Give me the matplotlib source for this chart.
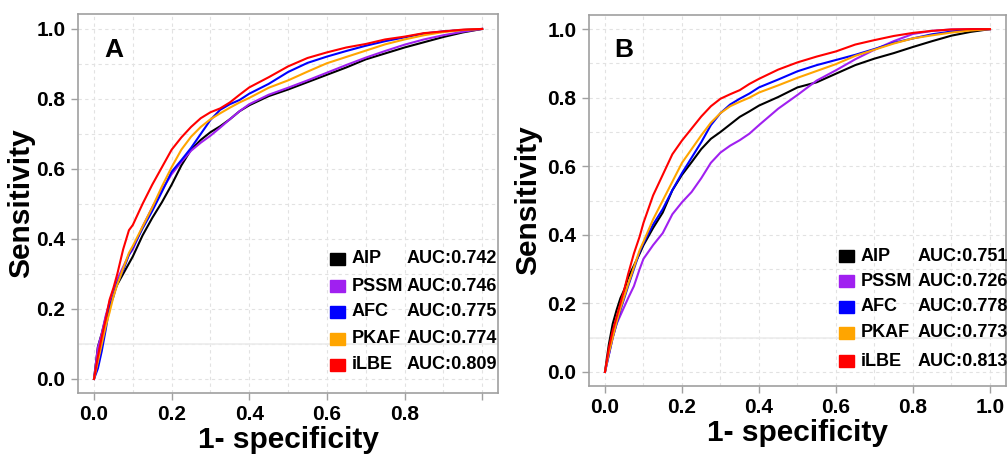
import matplotlib
matplotlib.use("Agg")
import matplotlib.pyplot as plt
from matplotlib.patches import Rectangle
import numpy as np

plt.rcParams['font.family'] = ['Liberation Sans', 'DejaVu Sans']
plt.rcParams['font.weight'] = 'bold'

# ---------------- data ----------------
fpr = [0.0, 0.01, 0.02, 0.03, 0.04, 0.05, 0.06, 0.075, 0.09, 0.1, 0.125,
       0.15, 0.175, 0.2, 0.225, 0.25, 0.275, 0.3, 0.325, 0.35, 0.375, 0.4,
       0.45, 0.5, 0.55, 0.6, 0.65, 0.7, 0.75, 0.8, 0.85, 0.9, 0.95, 1.0]

methods = ["AIP", "PSSM", "AFC", "PKAF", "iLBE"]
colors = ["#000000", "#A020F0", "#0000FF", "#FFA500", "#FF0000"]

# Panel A
a_aip  = [0, .092, .13, .175, .215, .245, .27, .30, .33, .35, .41, .46, .505,
          .555, .61, .655, .683, .705, .722, .742, .765, .782, .808, .827,
          .848, .869, .89, .913, .93, .947, .962, .977, .99, 1.0]
a_pssm = [0, .09, .13, .18, .22, .255, .285, .32, .355, .37, .435, .49, .54,
          .585, .62, .652, .675, .695, .718, .742, .765, .785, .812, .832,
          .853, .875, .897, .918, .937, .955, .97, .982, .992, 1.0]
a_afc  = [0, .03, .08, .14, .206, .235, .275, .31, .355, .375, .43, .48, .535,
          .592, .625, .66, .70, .74, .769, .785, .797, .815, .843, .877,
          .903, .921, .937, .952, .965, .976, .987, .993, .997, 1.0]
a_pkaf = [0, .05, .10, .15, .19, .235, .27, .315, .36, .38, .435, .49, .55,
          .605, .655, .692, .72, .742, .759, .775, .79, .803, .832, .853,
          .878, .902, .92, .938, .956, .97, .982, .991, .997, 1.0]
a_ilbe = [0, .064, .12, .17, .226, .26, .30, .37, .425, .44, .50, .555, .605,
          .655, .69, .72, .745, .762, .773, .79, .812, .833, .862, .893,
          .917, .933, .947, .957, .97, .978, .988, .993, .998, 1.0]
a_auc = ["0.742", "0.746", "0.775", "0.774", "0.809"]

# Panel B
b_aip  = [0, .08, .14, .18, .215, .24, .275, .31, .345, .37, .42, .465, .53,
          .575, .612, .65, .68, .70, .722, .744, .76, .777, .802, .83,
          .845, .87, .895, .914, .93, .948, .965, .981, .992, 1.0]
b_pssm = [0, .05, .10, .14, .165, .19, .215, .25, .30, .33, .37, .405, .46,
          .495, .525, .565, .61, .64, .66, .676, .695, .72, .768, .808,
          .85, .88, .912, .94, .965, .986, .995, .999, 1.0, 1.0]
b_afc  = [0, .05, .10, .14, .18, .215, .25, .30, .35, .375, .43, .475, .53,
          .58, .625, .67, .72, .755, .78, .797, .812, .83, .853, .877,
          .895, .91, .925, .942, .96, .973, .985, .993, .998, 1.0]
b_pkaf = [0, .055, .10, .145, .185, .22, .255, .305, .355, .38, .445, .50,
          .555, .61, .65, .69, .727, .755, .775, .788, .80, .815, .836,
          .858, .878, .898, .922, .94, .958, .973, .982, .99, .996, 1.0]
b_ilbe = [0, .07, .12, .16, .20, .24, .285, .345, .395, .435, .515, .575,
          .635, .675, .71, .745, .775, .797, .81, .822, .84, .855, .882,
          .903, .92, .935, .955, .968, .98, .989, .995, .999, 1.0, 1.0]
b_auc = ["0.751", "0.726", "0.778", "0.773", "0.813"]

xticks_a = [0.0, 0.2, 0.4, 0.6, 0.8, 1.0]
xlabels_a = ["0.0", "0.2", "0.4", "0.6", "0.8", ""]
xticks_b = [0.0, 0.2, 0.4, 0.6, 0.8, 1.0]
xlabels_b = ["0.0", "0.2", "0.4", "0.6", "0.8", "1.0"]
yticks = [0.0, 0.2, 0.4, 0.6, 0.8, 1.0]
ylabels = ["0.0", "0.2", "0.4", "0.6", "0.8", "1.0"]

# ---------------- figure ----------------
fig = plt.figure(figsize=(10.08, 4.54), dpi=100)
axA = fig.add_axes([0.0774, 0.1344, 0.4167, 0.835])
axB = fig.add_axes([0.5843, 0.1498, 0.4137, 0.817])

spine_col = "#a0a0a0"


def style(ax, xt, xl, panel, xlim, ylim, ylpad):
    ax.set_xlim(*xlim)
    ax.set_ylim(*ylim)
    grid = np.arange(0, 1.01, 0.1)
    for g in grid:
        ax.axvline(g, color="#e2e2e2", lw=0.8, ls=(0, (3, 3)), zorder=0)
        ax.axhline(g, color="#e2e2e2", lw=0.8, ls=(0, (3, 3)), zorder=0)
    ax.axhline(0.1, color="#ececec", lw=1.2, zorder=0)
    for s in ax.spines.values():
        s.set_color(spine_col)
        s.set_linewidth(1.2)
    ax.set_xticks(xt)
    ax.set_xticklabels(xl)
    ax.set_yticks(yticks)
    ax.set_yticklabels(ylabels)
    ax.tick_params(axis="both", direction="out", length=5, width=1.0,
                   color=spine_col, labelsize=15, pad=4)
    for lab in ax.get_xticklabels() + ax.get_yticklabels():
        lab.set_fontweight("bold")
    ax.set_xlabel("1- specificity", fontsize=21.5, fontweight="bold", labelpad=1)
    ax.set_ylabel("Sensitivity", fontsize=21.5, fontweight="bold", labelpad=ylpad)
    ax.text(0.05, 0.94, panel, fontsize=19, fontweight="bold",
            ha="center", va="center")


def legend(ax, aucs, ys, px, nx, ax_x):
    for m, c, a, y in zip(methods, colors, aucs, ys):
        ax.add_patch(Rectangle((px, y - 0.016), 0.036, 0.032,
                               transform=ax.transAxes, color=c,
                               zorder=5, clip_on=False))
        ax.text(nx, y, m, transform=ax.transAxes, fontsize=13,
                fontweight="bold", va="center", ha="left")
        ax.text(ax_x, y, "AUC:" + a, transform=ax.transAxes, fontsize=13,
                fontweight="bold", va="center", ha="left")


style(axA, xticks_a, xlabels_a, "A", (-0.0412, 1.041), (-0.04, 1.043), 1)
style(axB, xticks_b, xlabels_b, "B", (-0.0416, 1.0416), (-0.041, 1.041), 4)

for ys, c in zip([a_aip, a_pssm, a_afc, a_pkaf, a_ilbe], colors):
    axA.plot(fpr, ys, color=c, lw=1.5, zorder=3)
for ys, c in zip([b_aip, b_pssm, b_afc, b_pkaf, b_ilbe], colors):
    axB.plot(fpr, ys, color=c, lw=1.5, zorder=3)

legend(axA, a_auc, [0.354, 0.282, 0.214, 0.1425, 0.074], 0.60, 0.652, 0.783)
legend(axB, b_auc, [0.350, 0.283, 0.213, 0.143, 0.067], 0.60, 0.652, 0.787)

fig.savefig("out.png", dpi=100)
